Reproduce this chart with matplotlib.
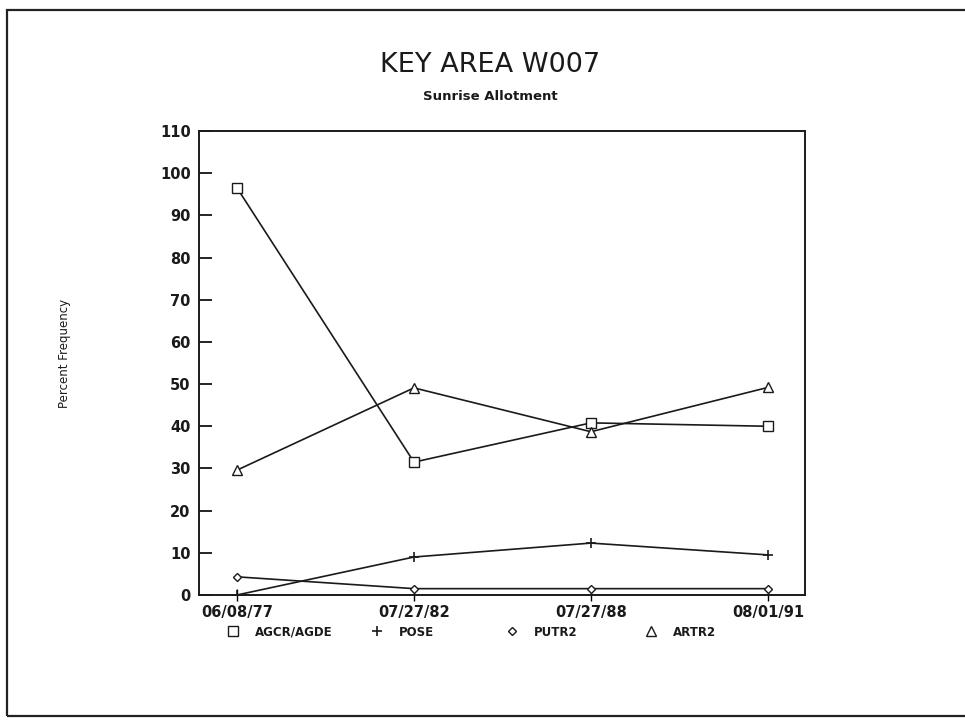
import matplotlib
matplotlib.use('Agg')
import matplotlib.pyplot as plt
from matplotlib.patches import Rectangle

# survey dates (evenly spaced on the chart)
dates = ['06/08/77', '07/27/82', '07/27/88', '08/01/91']

# percent frequency per species
agcr_agde = [96.5, 31.5, 40.8, 40.0]
pose = [0.0, 9.0, 12.3, 9.5]
putr2 = [4.3, 1.5, 1.5, 1.5]
artr2 = [29.6, 49.1, 38.7, 49.2]

series = [
    ('AGCR/AGDE', agcr_agde, 's'),
    ('POSE', pose, '+'),
    ('PUTR2', putr2, 'D'),
    ('ARTR2', artr2, '^'),
]

# legend marker x positions (pixels)
legend_x = [233, 377, 512, 651]

fig = plt.figure(figsize=(9.65, 7.21), dpi=100)
fig.patch.set_facecolor('white')

# outer page frame
fig.patches.append(Rectangle((7 / 965, 5 / 721), 1.2, 706 / 721,
                             transform=fig.transFigure, fill=False,
                             edgecolor='#222222', linewidth=1.6))

ax = fig.add_axes([0.2062, 0.1748, 0.628, 0.6435])
x = list(range(len(dates)))

handles = []
for name, vals, mk in series:
    ms = 7 if mk != 'D' else 4.5
    mew = 1.0 if mk != '+' else 1.2
    h, = ax.plot(x, vals, color='#1a1a1a', linewidth=1.2, marker=mk,
                 markersize=ms, markerfacecolor='white',
                 markeredgecolor='#1a1a1a', markeredgewidth=mew, label=name)
    handles.append(h)

ax.set_xlim(-0.215, 3.21)
ax.set_ylim(0, 110)
ax.set_yticks(range(0, 111, 10))
ax.set_xticks(x)
ax.set_xticklabels(dates)

for s in ax.spines.values():
    s.set_linewidth(1.4)
    s.set_color('#1a1a1a')

ax.tick_params(axis='y', direction='in', length=9, width=1.2, pad=6,
               labelsize=10.5, right=False)
ax.tick_params(axis='x', direction='inout', length=9, width=1.0, pad=3,
               labelsize=10.5)
for lbl in ax.get_xticklabels() + ax.get_yticklabels():
    lbl.set_fontweight('bold')
    lbl.set_color('#1a1a1a')

ax.set_ylabel('Percent Frequency', fontsize=8.5, color='#1a1a1a')
ax.yaxis.set_label_coords(-0.212, 0.52)

fig.text(0.508, 0.910, 'KEY AREA W007', ha='center', va='center',
         fontsize=19.5, color='#1a1a1a')
fig.text(0.508, 0.866, 'Sunrise Allotment', ha='center', va='center',
         fontsize=9.5, fontweight='bold', color='#1a1a1a')

for h, mx in zip(handles, legend_x):
    leg = fig.legend(handles=[h], loc='center left',
                     bbox_to_anchor=((mx - 6) / 965, 0.1234),
                     frameon=False, fontsize=8.5, handlelength=1.0,
                     handletextpad=1.4, borderpad=0, borderaxespad=0,
                     numpoints=1)
    for lh in leg.legend_handles:
        lh.set_linestyle('None')
    for t in leg.get_texts():
        t.set_fontweight('bold')
        t.set_color('#1a1a1a')

fig.savefig('out.png', dpi=100, facecolor='white')
